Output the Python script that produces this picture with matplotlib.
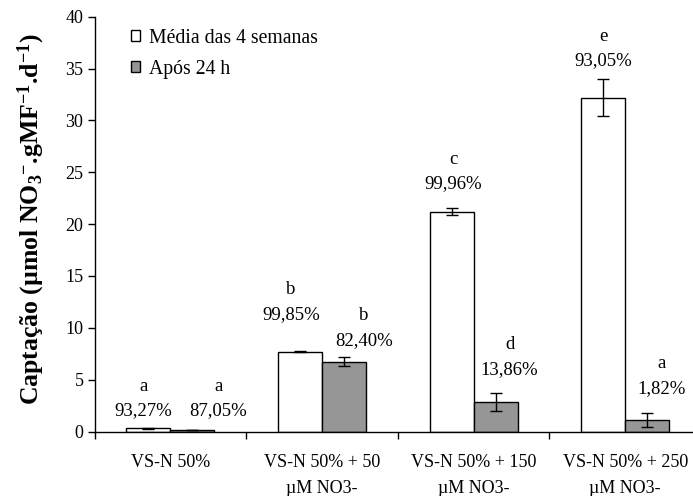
import matplotlib
matplotlib.use("Agg")
import matplotlib.pyplot as plt
from matplotlib.patches import Patch
import numpy as np

plt.rcParams['font.family'] = ['Liberation Serif', 'DejaVu Serif']
plt.rcParams['mathtext.fontset'] = 'custom'
plt.rcParams['mathtext.rm'] = 'Liberation Serif:bold'
plt.rcParams['mathtext.bf'] = 'Liberation Serif:bold'
plt.rcParams['mathtext.default'] = 'bf'

# Treatments
categories = ['VS-N 50%', 'VS-N 50% + 50\nµM NO3-',
              'VS-N 50% + 150\nµM NO3-', 'VS-N 50% + 250\nµM NO3-']

# Uptake (µmol NO3- / g fresh mass / day)
media_4sem = [0.31, 7.70, 21.2, 32.2]
media_4sem_err = [0.03, 0.05, 0.35, 1.82]
apos_24h = [0.17, 6.73, 2.82, 1.11]
apos_24h_err = [0.02, 0.42, 0.87, 0.65]

# Significance letters and percentages above the bars
letras_media = ['a', 'b', 'c', 'e']
pct_media = ['93,27%', '99,85%', '99,96%', '93,05%']
letras_apos = ['a', 'b', 'd', 'a']
pct_apos = ['87,05%', '82,40%', '13,86%', '1,82%']

# Label placement (pixel offsets from the top of each error bar)
dx_media = [-5, -9, 2, 0]
dy_media = [17, 37, 24, 18]
dx_apos = [26, 20, 14, 14]
dy_apos = [19, 17, 24, 25]

fig = plt.figure(figsize=(6.93, 4.96), dpi=100)
ax = fig.add_axes([94.5 / 693, 64.5 / 496, 606.5 / 693, 414.8 / 496])

x = np.arange(len(categories)) + 0.5
w = 0.29
gray = '#969696'

ax.bar(x, media_4sem, width=-w, align='edge', color='white',
       edgecolor='black', linewidth=1.0, zorder=2)
ax.bar(x, apos_24h, width=w, align='edge', color=gray,
       edgecolor='black', linewidth=1.0, zorder=2)
ax.errorbar(x - w / 2, media_4sem, yerr=media_4sem_err, fmt='none',
            ecolor='black', elinewidth=1.0, capsize=4, capthick=1.0, zorder=3)
ax.errorbar(x + w / 2, apos_24h, yerr=apos_24h_err, fmt='none',
            ecolor='black', elinewidth=1.0, capsize=4, capthick=1.0, zorder=3)

fs = 13.5
for i in range(len(categories)):
    for xc, top, dx, dy, let, pct in (
            (x[i] - w / 2, media_4sem[i] + media_4sem_err[i], dx_media[i],
             dy_media[i], letras_media[i], pct_media[i]),
            (x[i] + w / 2, apos_24h[i] + apos_24h_err[i], dx_apos[i],
             dy_apos[i], letras_apos[i], pct_apos[i])):
        ax.annotate(pct, xy=(xc, top), xytext=(dx, dy),
                    textcoords='offset pixels', ha='center', va='center',
                    fontsize=fs)
        ax.annotate(let, xy=(xc, top), xytext=(dx, dy + 24.5),
                    textcoords='offset pixels', ha='center', va='center',
                    fontsize=fs)

ax.set_xlim(0, 4)
ax.set_ylim(0, 40)
ax.set_yticks(np.arange(0, 41, 5))
ax.tick_params(axis='y', direction='out', length=5, width=1, labelsize=13,
               pad=3)
ax.set_xticks(np.arange(0, 5))
ax.set_xticklabels([])
ax.tick_params(axis='x', which='major', direction='out', length=5, width=1)
ax.set_xticks(x, categories, minor=True)
ax.tick_params(axis='x', which='minor', length=0, pad=16, labelsize=13)
for lbl in ax.get_xticklabels(minor=True):
    lbl.set_linespacing(1.68)

for s in ('top', 'right'):
    ax.spines[s].set_visible(False)
for s in ('left', 'bottom'):
    ax.spines[s].set_linewidth(1.0)

fig.text(31 / 693, 0.558,
         r'Captação (µmol NO$_{3}$$^{-}$.gMF$^{-1}$.d$^{-1}$)',
         rotation=90, ha='center', va='center', fontsize=18.5,
         fontweight='bold')

handles = [Patch(facecolor='white', edgecolor='black', linewidth=1.0),
           Patch(facecolor=gray, edgecolor='black', linewidth=1.0)]
ax.legend(handles, ['Média das 4 semanas', 'Após 24 h'],
          loc='upper left', bbox_to_anchor=(0.04, 1.0), frameon=False,
          fontsize=14.2, handlelength=0.5, handleheight=0.5,
          handletextpad=0.45, labelspacing=0.62, borderaxespad=0.2)

fig.savefig('out.png', dpi=100)
